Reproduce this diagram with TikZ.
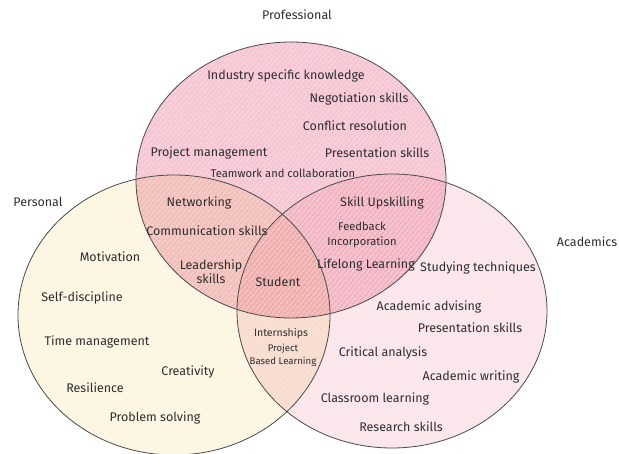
\documentclass[tikz,border=0pt]{standalone}
\usepackage{fontspec}
\setmainfont{Fira Sans}
\usetikzlibrary{patterns.meta}

\definecolor{profpink}{HTML}{F6C6D2}
\definecolor{perscream}{HTML}{FCF6E2}
\definecolor{acadpink}{HTML}{FBE6EA}
\definecolor{inkgray}{HTML}{2E2E2E}
\definecolor{rimgray}{HTML}{4A4A4A}

\begin{document}
\begin{tikzpicture}[
  x=1pt,y=-1pt,
  area/.style={blend mode=multiply},
  hatch/.style={pattern={Lines[angle=50,distance=4pt,line width=1.1pt]},pattern color=white,fill opacity=#1},
  rim/.style={draw=rimgray,line width=0.8pt},
  item/.style={text=inkgray,font=\fontsize{12.5}{14}\selectfont,inner sep=0pt},
  minor/.style={text=inkgray,font=\fontsize{10.5}{12}\selectfont,inner sep=0pt,align=center},
  heading/.style={text=inkgray,font=\fontsize{12.5}{14}\selectfont,inner sep=0pt}
]
  \useasboundingbox (0,0) rectangle (619,454);

  % the three sets
  \fill[area,perscream] (174,315) ellipse [x radius=156pt,y radius=140pt];
  \fill[area,profpink] (291,180) ellipse [x radius=155pt,y radius=138pt];
  \fill[area,acadpink] (392,311) ellipse [x radius=155pt,y radius=137pt];
  \fill[hatch=0.42] (291,180) ellipse [x radius=155pt,y radius=138pt];
  \fill[hatch=0.28] (392,311) ellipse [x radius=155pt,y radius=137pt];
  \draw[rim] (174,315) ellipse [x radius=156pt,y radius=140pt];
  \draw[rim] (291,180) ellipse [x radius=155pt,y radius=138pt];
  \draw[rim] (392,311) ellipse [x radius=155pt,y radius=137pt];

  \node[heading] (professional) at (297,15) {Professional};
  \node[heading] (personal) at (38,202) {Personal};
  \node[heading] (academics) at (587,242) {Academics};

  % professional only
  \node[item] (industry) at (286,76) {Industry specific knowledge};
  \node[item] (negotiation) at (359,99) {Negotiation skills};
  \node[item] (conflict) at (355,126) {Conflict resolution};
  \node[item] (projmgmt) at (209,153) {Project management};
  \node[item,font=\fontsize{11.2}{13}\selectfont] (teamwork) at (283,173) {Teamwork and collaboration};
  \node[item] (presprof) at (377,153) {Presentation skills};

  % professional and personal
  \node[item] (networking) at (199,203) {Networking};
  \node[item] (communication) at (207,231) {Communication skills};
  \node[item,align=center] (leadership) at (211,272) {Leadership\\skills};

  % all three
  \node[item] (student) at (278,282) {Student};

  % professional and academics
  \node[item] (upskilling) at (382,203) {Skill Upskilling};
  \node[minor,font=\fontsize{11.2}{15}\selectfont] (feedback) at (362,235) {Feedback\\Incorporation};
  \node[item] (lifelong) at (366,265) {Lifelong Learning};

  % personal only
  \node[item] (motivation) at (110,257) {Motivation};
  \node[item] (discipline) at (82,298) {Self-discipline};
  \node[item] (timemgmt) at (97,342) {Time management};
  \node[item] (creativity) at (188,372) {Creativity};
  \node[item] (resilience) at (95,388) {Resilience};
  \node[item] (problem) at (155,418) {Problem solving};

  % personal and academics
  \node[minor] (internships) at (281,334) {Internships};
  \node[minor,font=\fontsize{9.6}{13}\selectfont] (pbl) at (283,355) {Project\\Based Learning};

  % academics only
  \node[item] (studying) at (478,268) {Studying techniques};
  \node[item] (advising) at (429,307) {Academic advising};
  \node[item] (presacad) at (470,328) {Presentation skills};
  \node[item] (critical) at (383,353) {Critical analysis};
  \node[item] (writing) at (471,377) {Academic writing};
  \node[item] (classroom) at (375,399) {Classroom learning};
  \node[item] (research) at (401,427) {Research skills};
\end{tikzpicture}
\end{document}
